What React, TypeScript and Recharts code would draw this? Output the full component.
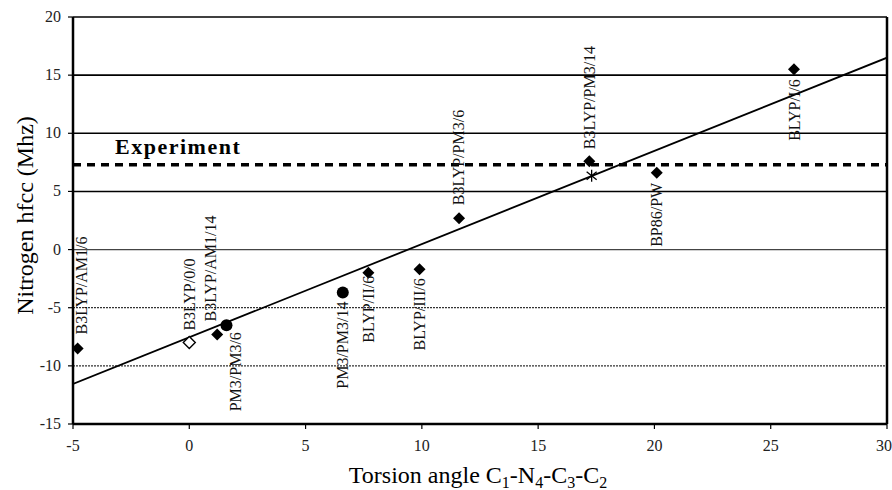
import React from 'react'
import { Label, ReferenceLine, Scatter, ScatterChart, XAxis, YAxis } from 'recharts'

// filled diamonds
const filledNames = ['B3LYP/AM1/6', 'B3LYP/AM1/14', 'BLYP/II/6', 'BLYP/III/6', 'B3LYP/PM3/6', 'B3LYP/PM3/14', 'BP86/PW', 'BLYP/I/6']
const filledAngle = [-4.8, 1.2, 7.7, 9.9, 11.6, 17.2, 20.1, 26.0]
const filledHfcc = [-8.5, -7.3, -2.0, -1.7, 2.7, 7.6, 6.6, 15.5]

// open diamond
const openNames = ['B3LYP/0/0']
const openAngle = [0.0]
const openHfcc = [-8.0]

// circles
const circleNames = ['PM3/PM3/6', 'PM3/PM3/14']
const circleAngle = [1.6, 6.6]
const circleHfcc = [-6.5, -3.7]

// star
const starAngle = [17.3]
const starHfcc = [6.35]

// fitted line end points
const fitAngle = [-5, 30]
const fitHfcc = [-11.55, 16.5]

const experimentHfcc = 7.3

const xTicks = [-5, 0, 5, 10, 15, 20, 25, 30]
const yTicks = [-15, -10, -5, 0, 5, 10, 15, 20]

const FONT = "'Liberation Serif', 'Times New Roman', serif"

// where each method label sits relative to its marker
const labelPlace: Record<string, { dx: number; gap: number; up: boolean }> = {
  'B3LYP/AM1/6': { dx: 4, gap: 14, up: true },
  'B3LYP/0/0': { dx: 0, gap: 12, up: true },
  'B3LYP/AM1/14': { dx: -7, gap: 13, up: true },
  'PM3/PM3/6': { dx: 9, gap: 7, up: false },
  'PM3/PM3/14': { dx: 0, gap: 9, up: false },
  'BLYP/II/6': { dx: 0, gap: 3, up: false },
  'BLYP/III/6': { dx: 0, gap: 9, up: false },
  'B3LYP/PM3/6': { dx: -1, gap: 13, up: true },
  'B3LYP/PM3/14': { dx: 0, gap: 12, up: true },
  'BP86/PW': { dx: 0, gap: 10, up: false },
  'BLYP/I/6': { dx: 1, gap: 10, up: false },
}

const toPoints = (names: string[], xs: number[], ys: number[]) =>
  xs.map((x, i) => ({ name: names[i] ?? '', x, y: ys[i] }))

const filledData = toPoints(filledNames, filledAngle, filledHfcc)
const openData = toPoints(openNames, openAngle, openHfcc)
const circleData = toPoints(circleNames, circleAngle, circleHfcc)
const starData = toPoints([], starAngle, starHfcc)
const fitData = toPoints([], fitAngle, fitHfcc)

const MethodLabel = ({ cx, cy, name }: { cx: number; cy: number; name: string }) => {
  const p = labelPlace[name]
  if (!p) return null
  const tx = cx + p.dx
  const ty = p.up ? cy - p.gap : cy + p.gap
  return (
    <text
      x={tx}
      y={ty}
      transform={`rotate(-90 ${tx} ${ty})`}
      textAnchor={p.up ? 'start' : 'end'}
      dominantBaseline="central"
      fontFamily={FONT}
      fontSize={16}
      fill="#111"
    >
      {name}
    </text>
  )
}

const nameOf = (props: any) => props.payload?.name ?? props.name ?? ''

const FilledDiamond = (props: any) => {
  const { cx, cy } = props
  const s = 6
  return (
    <g>
      <polygon points={`${cx},${cy - s} ${cx + s},${cy} ${cx},${cy + s} ${cx - s},${cy}`} fill="#000" />
      <MethodLabel cx={cx} cy={cy} name={nameOf(props)} />
    </g>
  )
}

const OpenDiamond = (props: any) => {
  const { cx, cy } = props
  const s = 6
  return (
    <g>
      <polygon points={`${cx},${cy - s} ${cx + s},${cy} ${cx},${cy + s} ${cx - s},${cy}`} fill="#fff" stroke="#000" strokeWidth={1.4} />
      <MethodLabel cx={cx} cy={cy} name={nameOf(props)} />
    </g>
  )
}

const Dot = (props: any) => {
  const { cx, cy } = props
  return (
    <g>
      <circle cx={cx} cy={cy} r={6} fill="#000" />
      <MethodLabel cx={cx} cy={cy} name={nameOf(props)} />
    </g>
  )
}

const Star = ({ cx, cy }: any) => (
  <g stroke="#000" strokeWidth={1.3}>
    <line x1={cx} y1={cy - 6} x2={cx} y2={cy + 6} />
    <line x1={cx - 5} y1={cy - 4} x2={cx + 5} y2={cy + 4} />
    <line x1={cx - 5} y1={cy + 4} x2={cx + 5} y2={cy - 4} />
  </g>
)

const NoShape = () => <g />

const XTick = ({ x, y, payload }: any) => (
  <text x={x} y={y} dy={11} textAnchor="middle" fontFamily={FONT} fontSize={16} fill="#222">
    {payload.value}
  </text>
)

const YTick = ({ x, y, payload }: any) => (
  <text x={x} y={y} dy={5} textAnchor="end" fontFamily={FONT} fontSize={16} fill="#222">
    {payload.value}
  </text>
)

const gridStyle = (v: number) =>
  v > 0
    ? { stroke: '#000', strokeWidth: 1.6 }
    : v === 0
      ? { stroke: '#444', strokeWidth: 1.2 }
      : { stroke: '#333', strokeWidth: 1.2, strokeDasharray: '2 1' }

const YTitle = (props: any) => {
  const vb = props.viewBox
  const x = vb.x + 25
  const y = vb.y + vb.height / 2 - 5
  return (
    <text x={x} y={y} transform={`rotate(-90 ${x} ${y})`} textAnchor="middle" dominantBaseline="central" fontFamily={FONT} fontSize={24} fill="#000">
      Nitrogen hfcc (Mhz)
    </text>
  )
}

const XTitle = (props: any) => {
  const vb = props.viewBox
  const x = vb.x + vb.width / 2 - 2
  const y = vb.y + 59
  const sub = { fontSize: 16, dy: 5 }
  const back = { dy: -5 }
  return (
    <text x={x} y={y} textAnchor="middle" fontFamily={FONT} fontSize={24} fill="#000">
      Torsion angle C<tspan {...sub}>1</tspan>
      <tspan {...back}>-N</tspan><tspan {...sub}>4</tspan>
      <tspan {...back}>-C</tspan><tspan {...sub}>3</tspan>
      <tspan {...back}>-C</tspan><tspan {...sub}>2</tspan>
    </text>
  )
}

const ExperimentLabel = (props: any) => {
  const vb = props.viewBox
  return (
    <text x={vb.x + 42} y={vb.y - 11} fontFamily={FONT} fontSize={22} fontWeight="bold" letterSpacing={1.5} fill="#000">
      Experiment
    </text>
  )
}

export default function App() {
  return (
    <div style={{ position: 'absolute', left: 0, top: 0, background: '#fff' }}>
      <ScatterChart width={892} height={490} margin={{ top: 17, right: 5, left: 0, bottom: 0 }}>
        <XAxis
          type="number"
          dataKey="x"
          domain={[-5, 30]}
          ticks={xTicks}
          allowDataOverflow
          height={66}
          tickSize={5}
          tickMargin={11}
          axisLine={{ stroke: '#000', strokeWidth: 2.5 }}
          tickLine={{ stroke: '#000', strokeWidth: 1.2 }}
          tick={XTick}
        >
          <Label content={XTitle} />
        </XAxis>
        <YAxis
          type="number"
          dataKey="y"
          domain={[-15, 20]}
          ticks={yTicks}
          allowDataOverflow
          width={73}
          tickSize={5}
          tickMargin={7}
          axisLine={{ stroke: '#000', strokeWidth: 2.5 }}
          tickLine={{ stroke: '#000', strokeWidth: 1.2 }}
          tick={YTick}
        >
          <Label content={YTitle} />
        </YAxis>
        {yTicks.filter((v) => v > -15).map((v) => (
          <ReferenceLine key={v} y={v} {...gridStyle(v)} />
        ))}
        <ReferenceLine x={30} stroke="#000" strokeWidth={2.5} />
        <ReferenceLine y={experimentHfcc} stroke="#000" strokeWidth={3.5} strokeDasharray="8 6">
          <Label content={ExperimentLabel} />
        </ReferenceLine>
        <Scatter data={fitData} line={{ stroke: '#000', strokeWidth: 1.8 }} shape={NoShape} isAnimationActive={false} />
        <Scatter data={filledData} shape={FilledDiamond} isAnimationActive={false} />
        <Scatter data={openData} shape={OpenDiamond} isAnimationActive={false} />
        <Scatter data={circleData} shape={Dot} isAnimationActive={false} />
        <Scatter data={starData} shape={Star} isAnimationActive={false} />
      </ScatterChart>
    </div>
  )
}
